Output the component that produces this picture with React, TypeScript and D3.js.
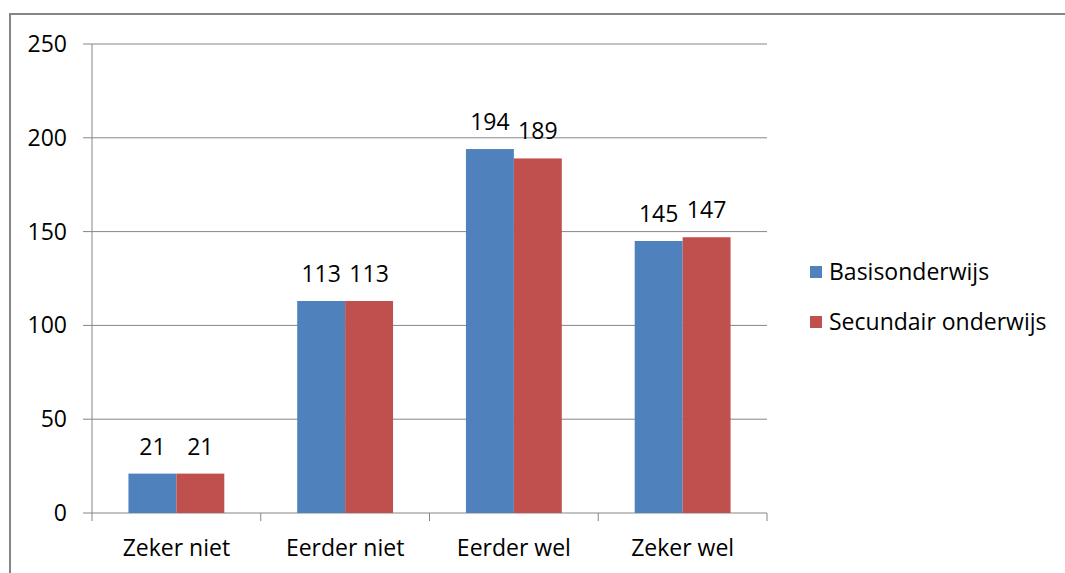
import React, { useMemo } from 'react';
import * as d3 from 'd3';

// chart data
const categories = ['Zeker niet', 'Eerder niet', 'Eerder wel', 'Zeker wel'];
const seriesNames = ['Basisonderwijs', 'Secundair onderwijs'];
const basisValues = [21, 113, 194, 145];
const secundairValues = [21, 113, 189, 147];
const yTicks = [0, 50, 100, 150, 200, 250];
const colors = ['#4f81bd', '#c0504d'];

const W = 1065;
const H = 573;
const plot = { left: 92, right: 767, top: 44, bottom: 513 };
const font = '"Open Sans", "Noto Sans", sans-serif';
const fs = 23;

const App = () => {
  const x0 = useMemo(
    () => d3.scaleBand().domain(categories).range([plot.left, plot.right]).padding(0),
    []
  );
  const x1 = useMemo(
    () =>
      d3.scaleBand()
        .domain(seriesNames)
        .range([x0.bandwidth() * 0.216, x0.bandwidth() * 0.784])
        .padding(0),
    [x0]
  );
  const y = useMemo(
    () => d3.scaleLinear().domain([0, 250]).range([plot.bottom, plot.top]),
    []
  );

  const series = [basisValues, secundairValues];

  return (
    <svg width={W} height={H} style={{ position: 'absolute', left: 0, top: 0 }}>
      <rect x={0} y={0} width={W} height={H} fill="#fff" />
      {/* outer chart border */}
      <rect x={10} y={14} width={W + 10} height={H + 10} fill="none" stroke="#868686" strokeWidth={2} />

      {/* gridlines + y labels */}
      {yTicks.map(t => (
        <g key={t}>
          <line x1={plot.left - 9} x2={plot.right} y1={y(t)} y2={y(t)} stroke="#868686" strokeWidth={1} />
          <text x={67} y={y(t)} dy="0.35em" textAnchor="end" fontFamily={font} fontSize={fs} fill="#000">
            {t}
          </text>
        </g>
      ))}

      {/* y axis line */}
      <line x1={plot.left} x2={plot.left} y1={plot.top} y2={plot.bottom} stroke="#868686" strokeWidth={1} />

      {/* category ticks */}
      {[...categories.map(c => x0(c) as number), plot.right].map((px, i) => (
        <line key={i} x1={px} x2={px} y1={plot.bottom} y2={plot.bottom + 8} stroke="#868686" strokeWidth={1} />
      ))}

      {/* bars */}
      {categories.map((c, ci) => (
        <g key={c} transform={`translate(${x0(c)},0)`}>
          {seriesNames.map((s, si) => {
            const v = series[si][ci];
            const bx = x1(s) as number;
            return (
              <g key={s}>
                <rect x={bx} y={y(v)} width={x1.bandwidth()} height={y(0) - y(v)} fill={colors[si]} />
                <text
                  x={bx + x1.bandwidth() / 2}
                  y={y(v) - 19}
                  textAnchor="middle"
                  fontFamily={font}
                  fontSize={fs}
                  fill="#000"
                >
                  {v}
                </text>
              </g>
            );
          })}
          <text
            x={x0.bandwidth() / 2}
            y={plot.bottom + 43}
            textAnchor="middle"
            fontFamily={font}
            fontSize={fs}
            fill="#000"
          >
            {c}
          </text>
        </g>
      ))}

      {/* legend */}
      {seriesNames.map((s, i) => (
        <g key={s} transform={`translate(810,${272 + i * 50})`}>
          <rect x={0} y={-6} width={12} height={12} fill={colors[i]} />
          <text x={19} y={0} dy="0.35em" fontFamily={font} fontSize={fs} fill="#000">
            {s}
          </text>
        </g>
      ))}
    </svg>
  );
};

export default App;
